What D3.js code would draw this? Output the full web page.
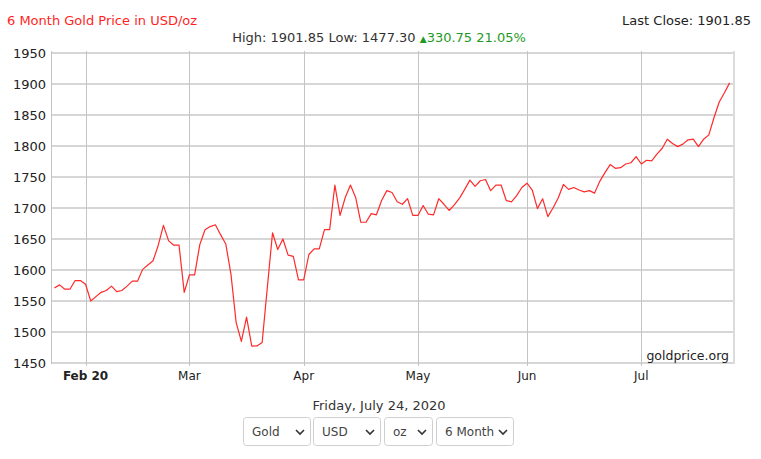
<!DOCTYPE html>
<html><head><meta charset="utf-8">
<script src="https://cdn.jsdelivr.net/npm/d3@7"></script>
<style>
html,body{margin:0;padding:0;background:#fff;}
svg{display:block;font-family:"DejaVu Sans",Verdana,sans-serif;}
</style></head>
<body>
<svg id="chart" width="761" height="459"></svg>
<script>
// ---- data ----
const startDate = "2020-01-24";
const endDate = "2020-07-24";
const prices = [
 1571.10,1576,1569,1569,1583,1583,1577,1550,1557,1564,
 1567,1574,1565,1567,1574,1582,1582,1601,1608,1615,
 1640,1672,1647,1640,1640,1564,1592,1592,1641,1665,
 1670,1673,1657,1642,1593,1515,1485,1524,1477.30,1477.5,
 1483,1572,1660,1633,1650,1624,1622,1584,1584,1625,
 1634,1634,1665,1665,1737,1688,1717,1737,1717,1677,
 1677,1691,1689,1712,1728,1725,1710,1706,1715,1688,
 1688,1704,1690,1689,1715,1706,1696,1705,1716,1730,
 1745,1735,1744,1746,1728,1737,1737,1712,1710,1720,
 1733,1740,1729,1699,1715,1686,1700,1716,1738,1730,
 1733,1729,1726,1728,1724,1743,1757,1770,1764,1765,
 1771,1773,1783,1771,1777,1776,1787,1796,1811,1804,
 1799,1803,1810,1811,1799,1811,1818,1846,1871,1886,
 1901.85
];
const yTicks = [1450,1500,1550,1600,1650,1700,1750,1800,1850,1900,1950];
const monthTickDates = ["2020-02-03","2020-03-02","2020-04-01","2020-05-01","2020-06-01","2020-07-01"];
const monthTickLabels = ["Feb 20","Mar","Apr","May","Jun","Jul"];
const titleText = "6 Month Gold Price in USD/oz";
const lastCloseText = "Last Close: 1901.85";
const statsText = "High: 1901.85 Low: 1477.30 ";
const changeText = "330.75 21.05%";
const dateText = "Friday, July 24, 2020";
const selectLabels = ["Gold","USD","oz","6 Month"];

// trading (week) days
const parse = d3.timeParse("%Y-%m-%d");
const days = d3.timeDay.range(parse(startDate), d3.timeDay.offset(parse(endDate),1))
  .filter(d => d.getDay() !== 0 && d.getDay() !== 6);
const idxOf = s => days.findIndex(d => +d === +parse(s));

const svg = d3.select("#chart");
const L = 51, R = 733, T = 53, B = 363;
const x = d3.scaleLinear().domain([-0.65, days.length - 1 + 0.65]).range([L, R]);
const y = d3.scaleLinear().domain([1450, 1950]).range([B, T]);

// horizontal grid
svg.append("g").selectAll("line").data(yTicks).join("line")
  .attr("x1", L).attr("x2", R).attr("y1", d => y(d)).attr("y2", d => y(d))
  .attr("stroke", "#d6d6d6").attr("stroke-width", 2);
// vertical grid
const tickIdx = monthTickDates.map(idxOf);
svg.append("g").selectAll("line").data(tickIdx).join("line")
  .attr("x1", d => Math.round(x(d)) + 0.5).attr("x2", d => Math.round(x(d)) + 0.5)
  .attr("y1", T - 2).attr("y2", B + 3)
  .attr("stroke", "#c4c4c4").attr("stroke-width", 1);
// frame
svg.append("line").attr("x1", L + 0.5).attr("x2", L + 0.5).attr("y1", T - 2).attr("y2", B + 1)
  .attr("stroke", "#c4c4c4");
svg.append("line").attr("x1", R + 1).attr("x2", R + 1).attr("y1", T - 2).attr("y2", B + 1)
  .attr("stroke", "#dcdcdc").attr("stroke-width", 2);

// y labels
svg.append("g").selectAll("text").data(yTicks).join("text")
  .attr("x", 46).attr("y", d => y(d)).attr("dy", "0.36em")
  .attr("text-anchor", "end").attr("font-size", 13).attr("fill", "#222")
  .text(d => d);
// x labels
svg.append("g").selectAll("text").data(tickIdx).join("text")
  .attr("x", d => x(d)).attr("y", 376).attr("dy", "0.36em")
  .attr("text-anchor", "middle").attr("font-size", 12).attr("fill", "#222")
  .attr("font-weight", (d, i) => i === 0 ? "bold" : "normal")
  .text((d, i) => monthTickLabels[i]);

// line
const line = d3.line().x((d, i) => x(i)).y(d => y(d));
svg.append("path").datum(prices).attr("d", line)
  .attr("fill", "none").attr("stroke", "#ff2a2a").attr("stroke-width", 1.2)
  .attr("stroke-linejoin", "round");

// watermark
svg.append("text").attr("x", 729).attr("y", 355).attr("dy", "0.36em")
  .attr("text-anchor", "end").attr("font-size", 12.5).attr("fill", "#222").text("goldprice.org");

// header
svg.append("text").attr("x", 7).attr("y", 20).attr("dy", "0.36em")
  .attr("font-size", 13).attr("fill", "#ff1f1f").text(titleText);
svg.append("text").attr("x", 751).attr("y", 20).attr("dy", "0.36em")
  .attr("text-anchor", "end").attr("font-size", 13).attr("fill", "#222").text(lastCloseText);
const st = svg.append("text").attr("x", 379).attr("y", 37).attr("dy", "0.36em")
  .attr("text-anchor", "middle").attr("font-size", 13).attr("fill", "#333");
st.append("tspan").text(statsText);
st.append("tspan").attr("fill", "#1e9a1e").attr("font-size", 9).text("\u25B2");
st.append("tspan").attr("fill", "#1e9a1e").text(changeText);

// footer
svg.append("text").attr("x", 379).attr("y", 405).attr("dy", "0.36em")
  .attr("text-anchor", "middle").attr("font-size", 13).attr("fill", "#333").text(dateText);
const boxes = [[243, 67], [313, 67], [384, 48], [436, 77]];
boxes.forEach((b, i) => {
  const g = svg.append("g").attr("transform", `translate(${b[0]},417)`);
  g.append("rect").attr("x", 0.5).attr("y", 0.5).attr("width", b[1]).attr("height", 28)
    .attr("rx", 3).attr("fill", "#fff").attr("stroke", "#cfcfcf");
  g.append("text").attr("x", 9).attr("y", 15).attr("dy", "0.36em").attr("font-size", 12)
    .attr("fill", "#444").text(selectLabels[i]);
  const cx = b[1] - 10;
  g.append("path").attr("d", `M${cx - 4},13 L${cx},17 L${cx + 4},13`)
    .attr("fill", "none").attr("stroke", "#333").attr("stroke-width", 1.6);
});
</script>
</body></html>
